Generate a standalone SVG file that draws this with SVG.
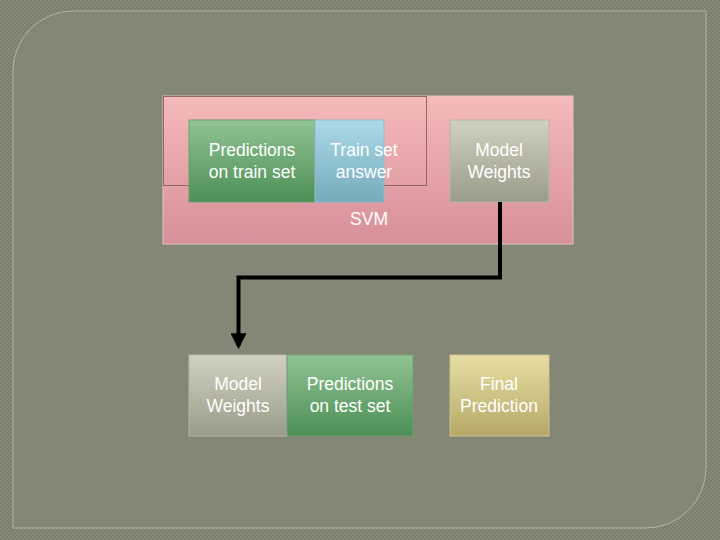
<svg xmlns="http://www.w3.org/2000/svg" width="720" height="540" viewBox="0 0 720 540">
<defs>
<pattern id="dots" width="4" height="4" patternUnits="userSpaceOnUse"><rect width="4" height="4" fill="#7c7e6d"/><rect width="2" height="2" fill="#878979"/><rect x="2" y="2" width="2" height="2" fill="#878979"/></pattern>
<linearGradient id="gPink" x1="0" y1="0" x2="0" y2="1"><stop offset="0" stop-color="#f6baba"/><stop offset="1" stop-color="#d68f98"/></linearGradient>
<linearGradient id="gGreen" x1="0" y1="0" x2="0" y2="1"><stop offset="0" stop-color="#90c493"/><stop offset="1" stop-color="#4d8e56"/></linearGradient>
<linearGradient id="gBlue" x1="0" y1="0" x2="0" y2="1"><stop offset="0" stop-color="#acdae9"/><stop offset="1" stop-color="#74abbb"/></linearGradient>
<linearGradient id="gGrey" x1="0" y1="0" x2="0" y2="1"><stop offset="0" stop-color="#d1d1bf"/><stop offset="1" stop-color="#9a9b88"/></linearGradient>
<linearGradient id="gGold" x1="0" y1="0" x2="0" y2="1"><stop offset="0" stop-color="#e8dea4"/><stop offset="1" stop-color="#b5a868"/></linearGradient>
<marker id="arr" viewBox="0 0 10 10" refX="8" refY="5" markerWidth="4" markerHeight="4" orient="auto" markerUnits="strokeWidth"><path d="M0,0 L10,5 L0,10 Z" fill="#000"/></marker>
</defs>
<style>
.lbl{font-family:"Liberation Sans",Arial,sans-serif;font-size:17.5px;fill:#ffffff;text-anchor:middle}
.box{stroke-width:1}
</style>
<rect width="720" height="540" fill="url(#dots)"/>
<path d="M73,11 H706 V468 A60,60 0 0 1 646,528 H13 V71 A60,60 0 0 1 73,11 Z" fill="#858776" stroke="#b3b5a1" stroke-width="1"/>
<g id="svm">
<rect x="163" y="96" width="410" height="148" fill="url(#gPink)" stroke="#e6c3c3" stroke-width="1"/>
<rect x="163.5" y="96.5" width="263" height="89" fill="none" stroke="#8e6a66" stroke-width="1"/>
<text class="lbl" x="369" y="225">SVM</text>
</g>
<g id="pred-train">
<rect x="189" y="120" width="126" height="82" fill="url(#gGreen)" stroke="#6f9e72" class="box"/>
<text class="lbl" x="252" y="156">Predictions</text>
<text class="lbl" x="252" y="178">on train set</text>
</g>
<g id="train-answer">
<rect x="315" y="120" width="69" height="82" fill="url(#gBlue)" stroke="#8fbccb" class="box"/>
<text class="lbl" x="364" y="156">Train set</text>
<text class="lbl" x="364" y="178">answer</text>
</g>
<g id="model-weights-top">
<rect x="450" y="120" width="99" height="82" fill="url(#gGrey)" stroke="#b5b5a3" class="box"/>
<text class="lbl" x="499" y="156">Model</text>
<text class="lbl" x="499" y="178">Weights</text>
</g>
<g id="model-weights-bottom">
<rect x="189" y="355" width="98" height="81" fill="url(#gGrey)" stroke="#b5b5a3" class="box"/>
<text class="lbl" x="238" y="390">Model</text>
<text class="lbl" x="238" y="412">Weights</text>
</g>
<g id="pred-test">
<rect x="287" y="355" width="126" height="81" fill="url(#gGreen)" stroke="#6f9e72" class="box"/>
<text class="lbl" x="350" y="390">Predictions</text>
<text class="lbl" x="350" y="412">on test set</text>
</g>
<g id="final">
<rect x="450" y="355" width="99" height="81" fill="url(#gGold)" stroke="#cfc48c" class="box"/>
<text class="lbl" x="499" y="390">Final</text>
<text class="lbl" x="499" y="412">Prediction</text>
</g>
<g id="connectors">
<path d="M500,202 V277.5 H238.5 V346" fill="none" stroke="#000" stroke-width="4" marker-end="url(#arr)"/>
</g>
</svg>
